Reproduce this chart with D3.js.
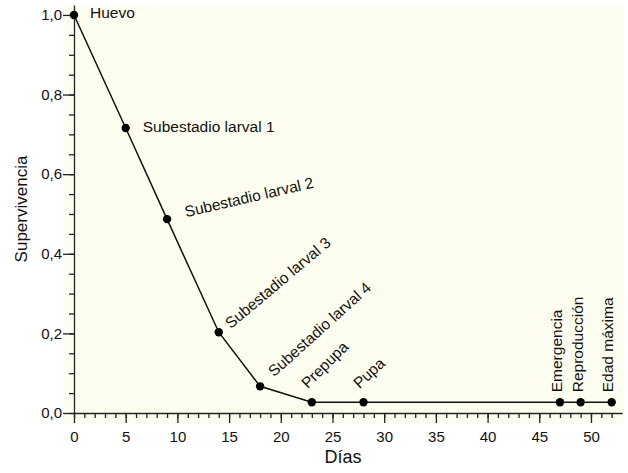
<!DOCTYPE html>
<html>
<head>
<meta charset="utf-8">
<script src="https://cdn.jsdelivr.net/npm/d3@7"></script>
<style>
  body { margin: 0; background: #fff; }
  svg { display: block; font-family: "Liberation Sans", Arial, Helvetica, sans-serif; }
  .axis path, .axis line { stroke: #222; stroke-width: 1.3; }
  .axis text { font-size: 15px; fill: #111; }
</style>
</head>
<body>
<div id="chart"></div>
<script>
// values
const stages = ['Huevo', 'Subestadio larval 1', 'Subestadio larval 2', 'Subestadio larval 3',
  'Subestadio larval 4', 'Prepupa', 'Pupa', 'Emergencia', 'Reproducción', 'Edad máxima'];
const days = [0, 5, 9, 14, 18, 23, 28, 47, 49, 52];
const survival = [1.0, 0.716, 0.487, 0.203, 0.067, 0.027, 0.027, 0.027, 0.027, 0.027];
const xTicks = [0, 5, 10, 15, 20, 25, 30, 35, 40, 45, 50];
const yTicks = [0, 0.2, 0.4, 0.6, 0.8, 1.0];

// label placement relative to each point: [dx, dy, angle]
const labelPlace = [
  [16, 3, 0], [17, 4, 0], [19, -2, -13], [12, -3, -40], [14, -9, -42],
  [-4, -13, -45], [-4, -13, -43], [2, -10, -90], [2, -10, -90], [1, -10, -90],
];

const width = 628;
const height = 473;

const x = d3.scaleLinear().domain([0, 53]).range([74, 622]);
const y = d3.scaleLinear().domain([0, 1.025]).range([413, 5]);

const svg = d3.select('#chart')
  .append('svg')
  .attr('width', width)
  .attr('height', height);

svg.append('rect')
  .attr('x', 63)
  .attr('y', 5)
  .attr('width', 560)
  .attr('height', 419)
  .attr('fill', '#fefef0');

// minor ticks
svg.append('g')
  .attr('class', 'axis')
  .attr('transform', `translate(0,${y(0)})`)
  .call(d3.axisBottom(x).tickValues(d3.range(0, 53)).tickSize(5).tickFormat(''))
  .call(g => g.select('.domain').remove());

svg.append('g')
  .attr('class', 'axis')
  .attr('transform', `translate(${x(0)},0)`)
  .call(d3.axisLeft(y).tickValues(d3.range(0, 21).map(d => d * 0.05)).tickSize(5).tickFormat(''))
  .call(g => g.select('.domain').remove());

// major ticks
svg.append('g')
  .attr('class', 'axis')
  .attr('transform', `translate(0,${y(0)})`)
  .call(d3.axisBottom(x).tickValues(xTicks).tickSize(10).tickSizeOuter(0).tickPadding(8).tickFormat(d3.format('d')));

svg.append('g')
  .attr('class', 'axis')
  .attr('transform', `translate(${x(0)},0)`)
  .call(d3.axisLeft(y).tickValues(yTicks).tickSize(11).tickSizeOuter(0).tickPadding(1)
    .tickFormat(d => d3.format('.1f')(d).replace('.', ',')));

svg.append('text')
  .attr('transform', `translate(27,${(y(0) + y(1.025)) / 2}) rotate(-90)`)
  .attr('text-anchor', 'middle')
  .attr('font-size', 17)
  .attr('fill', '#111')
  .text('Supervivencia');

svg.append('text')
  .attr('x', 343)
  .attr('y', 463)
  .attr('text-anchor', 'middle')
  .attr('font-size', 18)
  .attr('fill', '#111')
  .text('Días');

const points = days.map((d, i) => ({ day: d, value: survival[i], stage: stages[i], place: labelPlace[i] }));

svg.append('path')
  .datum(points)
  .attr('fill', 'none')
  .attr('stroke', '#111')
  .attr('stroke-width', 1.5)
  .attr('d', d3.line().x(d => x(d.day)).y(d => y(d.value)));

svg.selectAll('.dot')
  .data(points)
  .enter()
  .append('circle')
  .attr('class', 'dot')
  .attr('cx', d => x(d.day))
  .attr('cy', d => y(d.value))
  .attr('r', 4.2)
  .attr('fill', '#000');

svg.selectAll('.stage-label')
  .data(points)
  .enter()
  .append('text')
  .attr('class', 'stage-label')
  .attr('font-size', 15.5)
  .attr('fill', '#111')
  .attr('transform', d => `translate(${x(d.day) + d.place[0]},${y(d.value) + d.place[1]}) rotate(${d.place[2]})`)
  .text(d => d.stage);
</script>
</body>
</html>
